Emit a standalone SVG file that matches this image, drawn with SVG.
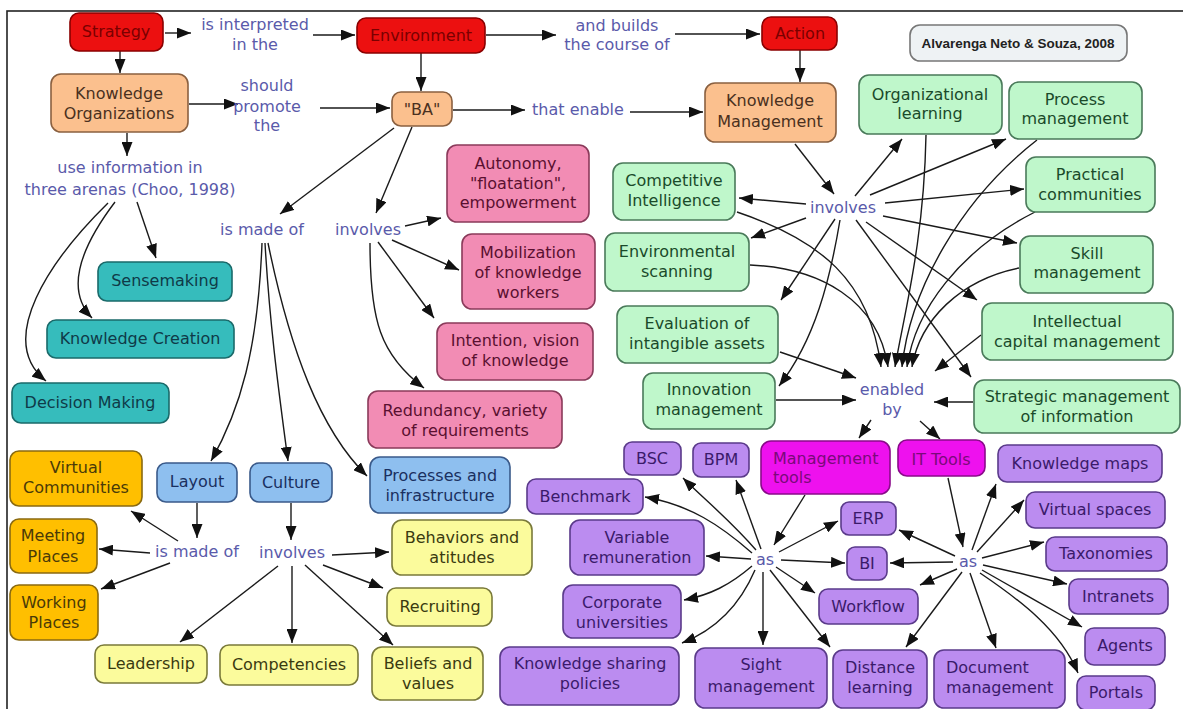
<svg xmlns="http://www.w3.org/2000/svg" width="1183" height="709" viewBox="0 0 1183 709">
<defs>
<marker id="ah" viewBox="0 0 14 11" refX="14" refY="5.5" markerWidth="14" markerHeight="11" orient="auto" markerUnits="userSpaceOnUse"><path d="M0,0 L14,5.5 L0,11 z" fill="#111"/></marker>
<style>
text{font-family:"DejaVu Sans","Verdana",sans-serif;font-size:16px;text-anchor:middle}
rect{stroke-width:1.6}
.red rect{fill:#ec1010;stroke:#8a0000}.red text{fill:#7a0000}
.peach rect{fill:#fbc08e;stroke:#8a6040}.peach text{fill:#4a3020}
.teal rect{fill:#36bcbc;stroke:#1a6a6a}.teal text{fill:#0f3a48}
.pink rect{fill:#f28cb4;stroke:#8a3a5a}.pink text{fill:#5a1030}
.blue rect{fill:#8ebfef;stroke:#3a5a8a}.blue text{fill:#1a3060}
.gold rect{fill:#ffbf00;stroke:#8a6a10}.gold text{fill:#4a3a08}
.yellow rect{fill:#fbfb9c;stroke:#7a7a3a}.yellow text{fill:#3a3a10}
.green rect{fill:#bff7cb;stroke:#4a7a5a}.green text{fill:#1a4a2a}
.mag rect{fill:#ee11ee;stroke:#8a0a8a}.mag text{fill:#7a0a7a}
.purple rect{fill:#bb8cf0;stroke:#5a3a8a}.purple text{fill:#3a1a6a}
.lbl text{fill:#5a5aaa}
#connectors path{fill:none;stroke:#1a1a1a;stroke-width:1.4;marker-end:url(#ah)}
</style>
</defs>
<rect x="0" y="0" width="1183" height="709" fill="#ffffff" stroke="none"/>
<rect x="7" y="11" width="1190" height="710" fill="none" stroke="#222" stroke-width="2"/>

<g id="connectors">
<path d="M165,33 L191,33"/>
<path d="M313,35 L355,35"/>
<path d="M486,35 L556,35"/>
<path d="M675,34 L760,34"/>
<path d="M120,51 L120,73"/>
<path d="M421,53 L421,91"/>
<path d="M800,50 L800,82"/>
<path d="M189,104 L238,104"/>
<path d="M320,108 L390,108"/>
<path d="M453,110 L525,110"/>
<path d="M630,112 L703,112"/>
<path d="M127,133 L127,156"/>
<path d="M137,202 L156,258"/>
<path d="M115,202 C90,235 60,285 92,318"/>
<path d="M108,203 C50,260 -5,340 46,381"/>
<path d="M394,128 L280,214"/>
<path d="M412,127 L376,213"/>
<path d="M405,226 L441,218"/>
<path d="M392,240 L459,270"/>
<path d="M378,242 L434,318"/>
<path d="M370,243 C370,320 380,355 424,388"/>
<path d="M262,243 C258,350 240,410 211,461"/>
<path d="M265,243 C270,330 280,400 288,461"/>
<path d="M268,243 C290,350 320,430 367,476"/>
<path d="M197,503 L197,538"/>
<path d="M178,541 L131,511"/>
<path d="M150,553 L99,549"/>
<path d="M170,563 L101,589"/>
<path d="M291,503 L291,540"/>
<path d="M332,555 L389,552"/>
<path d="M323,565 L383,588"/>
<path d="M278,566 L180,642"/>
<path d="M292,566 L292,643"/>
<path d="M305,565 L393,645"/>
<path d="M795,144 L834,194"/>
<path d="M855,196 L902,139"/>
<path d="M870,195 L1006,139"/>
<path d="M885,203 L1024,189"/>
<path d="M883,216 L1017,243"/>
<path d="M866,222 L977,300"/>
<path d="M856,220 L971,377"/>
<path d="M806,204 L739,198"/>
<path d="M806,218 L751,238"/>
<path d="M835,219 L781,300"/>
<path d="M840,220 C830,280 815,340 779,386"/>
<path d="M737,212 C820,240 870,280 881,367"/>
<path d="M750,265 C820,268 878,300 888,367"/>
<path d="M926,135 C924,240 905,310 895,367"/>
<path d="M1037,140 C960,200 910,290 902,367"/>
<path d="M1035,212 C960,250 915,310 907,367"/>
<path d="M1019,268 C960,280 920,320 912,367"/>
<path d="M981,335 L935,371"/>
<path d="M973,402 L934,402"/>
<path d="M780,352 L856,378"/>
<path d="M776,400 L856,400"/>
<path d="M871,420 L859,438"/>
<path d="M920,421 L940,439"/>
<path d="M805,495 L774,545"/>
<path d="M948,478 L963,547"/>
<path d="M756,550 C730,520 705,500 683,478"/>
<path d="M761,549 L736,480"/>
<path d="M752,553 C720,525 690,505 645,497"/>
<path d="M751,559 L706,556"/>
<path d="M779,552 L838,521"/>
<path d="M781,560 L845,563"/>
<path d="M776,567 L815,593"/>
<path d="M752,566 C730,585 710,595 684,600"/>
<path d="M755,570 C740,605 715,630 682,643"/>
<path d="M763,572 L763,645"/>
<path d="M770,570 L830,647"/>
<path d="M955,556 L899,530"/>
<path d="M953,562 L890,563"/>
<path d="M957,569 L920,585"/>
<path d="M972,550 L996,484"/>
<path d="M977,552 L1024,500"/>
<path d="M982,558 L1044,542"/>
<path d="M983,565 L1067,584"/>
<path d="M982,570 L1082,627"/>
<path d="M980,573 C1020,600 1060,630 1078,673"/>
<path d="M970,573 L996,648"/>
<path d="M962,572 L906,647"/>
</g>

<g class="lbl">
<g id="lbl-interpreted"><text x="255" y="30">is interpreted</text><text x="255" y="50">in the</text></g>
<g id="lbl-builds"><text x="617" y="31">and builds</text><text x="617" y="50">the course of</text></g>
<g id="lbl-promote"><text x="267" y="91">should</text><text x="267" y="112">promote</text><text x="267" y="131">the</text></g>
<g id="lbl-enable"><text x="578" y="115">that enable</text></g>
<g id="lbl-useinfo"><text x="130" y="173">use information in</text><text x="130" y="195">three arenas (Choo, 1998)</text></g>
<g id="lbl-madeof1"><text x="262" y="235">is made of</text></g>
<g id="lbl-involves1"><text x="368" y="235">involves</text></g>
<g id="lbl-involves-km"><text x="843" y="213">involves</text></g>
<g id="lbl-enabled"><text x="892" y="395">enabled</text><text x="892" y="415">by</text></g>
<g id="lbl-madeof2"><text x="197" y="557">is made of</text></g>
<g id="lbl-involves2"><text x="292" y="558">involves</text></g>
<g id="lbl-as1"><text x="765" y="565">as</text></g>
<g id="lbl-as2"><text x="968" y="567">as</text></g>
</g>

<g id="strategy" class="red"><rect x="70" y="13" width="93" height="38" rx="9"/><text x="116" y="37">Strategy</text></g>
<g id="environment" class="red"><rect x="357" y="18" width="128" height="35" rx="9"/><text x="421" y="41">Environment</text></g>
<g id="action" class="red"><rect x="762" y="17" width="75" height="33" rx="9"/><text x="800" y="39">Action</text></g>

<g id="citation"><rect x="910" y="25" width="217" height="36" rx="10" fill="#eef2f4" stroke="#777" stroke-width="1.6"/><text x="1018" y="48" style="font-family:'Liberation Sans',Arial,sans-serif;font-size:13px;font-weight:bold;fill:#222" textLength="193" lengthAdjust="spacingAndGlyphs">Alvarenga Neto &amp; Souza, 2008</text></g>

<g id="ko" class="peach"><rect x="51" y="74" width="137" height="58" rx="10"/><text x="119" y="99">Knowledge</text><text x="119" y="119">Organizations</text></g>
<g id="ba" class="peach"><rect x="392" y="92" width="60" height="34" rx="9"/><text x="422" y="115">"BA"</text></g>
<g id="km" class="peach"><rect x="705" y="83" width="131" height="59" rx="10"/><text x="770" y="106">Knowledge</text><text x="770" y="127">Management</text></g>

<g id="sensemaking" class="teal"><rect x="98" y="262" width="134" height="39" rx="9"/><text x="165" y="286">Sensemaking</text></g>
<g id="kcreation" class="teal"><rect x="47" y="320" width="187" height="38" rx="9"/><text x="140" y="344">Knowledge Creation</text></g>
<g id="decision" class="teal"><rect x="12" y="383" width="157" height="40" rx="9"/><text x="90" y="408">Decision Making</text></g>

<g id="autonomy" class="pink"><rect x="447" y="145" width="142" height="77" rx="10"/><text x="518" y="169">Autonomy,</text><text x="518" y="189">"floatation",</text><text x="518" y="208">empowerment</text></g>
<g id="mobilization" class="pink"><rect x="462" y="234" width="133" height="75" rx="10"/><text x="528" y="258">Mobilization</text><text x="528" y="278">of knowledge</text><text x="528" y="298">workers</text></g>
<g id="intention" class="pink"><rect x="437" y="323" width="156" height="57" rx="10"/><text x="515" y="346">Intention, vision</text><text x="515" y="366">of knowledge</text></g>
<g id="redundancy" class="pink"><rect x="368" y="391" width="194" height="57" rx="10"/><text x="465" y="416">Redundancy, variety</text><text x="465" y="436">of requirements</text></g>

<g id="layout" class="blue"><rect x="157" y="463" width="80" height="39" rx="9"/><text x="197" y="487">Layout</text></g>
<g id="culture" class="blue"><rect x="250" y="463" width="82" height="39" rx="9"/><text x="291" y="488">Culture</text></g>
<g id="processes" class="blue"><rect x="370" y="457" width="140" height="56" rx="10"/><text x="440" y="481">Processes and</text><text x="440" y="501">infrastructure</text></g>

<g id="vcommunities" class="gold"><rect x="10" y="451" width="132" height="55" rx="9"/><text x="76" y="473">Virtual</text><text x="76" y="493">Communities</text></g>
<g id="meeting" class="gold"><rect x="10" y="519" width="87" height="54" rx="9"/><text x="53" y="541">Meeting</text><text x="53" y="562">Places</text></g>
<g id="working" class="gold"><rect x="10" y="585" width="88" height="55" rx="9"/><text x="54" y="608">Working</text><text x="54" y="628">Places</text></g>

<g id="behaviors" class="yellow"><rect x="392" y="520" width="140" height="55" rx="10"/><text x="462" y="543">Behaviors and</text><text x="462" y="563">atitudes</text></g>
<g id="recruiting" class="yellow"><rect x="387" y="588" width="105" height="38" rx="9"/><text x="440" y="612">Recruiting</text></g>
<g id="beliefs" class="yellow"><rect x="372" y="647" width="111" height="53" rx="10"/><text x="428" y="669">Beliefs and</text><text x="428" y="689">values</text></g>
<g id="leadership" class="yellow"><rect x="95" y="645" width="112" height="38" rx="9"/><text x="151" y="669">Leadership</text></g>
<g id="competencies" class="yellow"><rect x="220" y="645" width="138" height="40" rx="9"/><text x="289" y="670">Competencies</text></g>

<g id="orglearning" class="green"><rect x="859" y="75" width="143" height="59" rx="10"/><text x="930" y="100">Organizational</text><text x="930" y="119">learning</text></g>
<g id="procmgmt" class="green"><rect x="1009" y="82" width="133" height="57" rx="10"/><text x="1075" y="105">Process</text><text x="1075" y="124">management</text></g>
<g id="practical" class="green"><rect x="1026" y="157" width="129" height="55" rx="10"/><text x="1090" y="180">Practical</text><text x="1090" y="200">communities</text></g>
<g id="skill" class="green"><rect x="1020" y="236" width="133" height="57" rx="10"/><text x="1087" y="259">Skill</text><text x="1087" y="278">management</text></g>
<g id="intellectual" class="green"><rect x="982" y="303" width="191" height="57" rx="10"/><text x="1077" y="327">Intellectual</text><text x="1077" y="347">capital management</text></g>
<g id="strategic" class="green"><rect x="974" y="380" width="206" height="53" rx="10"/><text x="1077" y="402">Strategic management</text><text x="1077" y="422">of information</text></g>
<g id="competitive" class="green"><rect x="613" y="163" width="122" height="57" rx="10"/><text x="674" y="186">Competitive</text><text x="674" y="206">Intelligence</text></g>
<g id="envscan" class="green"><rect x="605" y="233" width="144" height="58" rx="10"/><text x="677" y="257">Environmental</text><text x="677" y="277">scanning</text></g>
<g id="evaluation" class="green"><rect x="617" y="306" width="161" height="57" rx="10"/><text x="697" y="329">Evaluation of</text><text x="697" y="349">intangible assets</text></g>
<g id="innovation" class="green"><rect x="643" y="373" width="132" height="56" rx="10"/><text x="709" y="395">Innovation</text><text x="709" y="415">management</text></g>

<g id="mgmttools" class="mag"><rect x="761" y="441" width="129" height="53" rx="10"/><text x="773" y="464" style="text-anchor:start">Management</text><text x="773" y="483" style="text-anchor:start">tools</text></g>
<g id="ittools" class="mag"><rect x="898" y="440" width="87" height="36" rx="9"/><text x="941" y="465">IT Tools</text></g>

<g id="kmaps" class="purple"><rect x="998" y="445" width="164" height="37" rx="9"/><text x="1080" y="469">Knowledge maps</text></g>
<g id="vspaces" class="purple"><rect x="1026" y="492" width="139" height="36" rx="9"/><text x="1095" y="515">Virtual spaces</text></g>
<g id="taxonomies" class="purple"><rect x="1046" y="537" width="121" height="34" rx="9"/><text x="1106" y="559">Taxonomies</text></g>
<g id="intranets" class="purple"><rect x="1069" y="579" width="99" height="35" rx="9"/><text x="1118" y="602">Intranets</text></g>
<g id="agents" class="purple"><rect x="1085" y="628" width="80" height="37" rx="9"/><text x="1125" y="651">Agents</text></g>
<g id="portals" class="purple"><rect x="1077" y="676" width="78" height="34" rx="9"/><text x="1116" y="698">Portals</text></g>
<g id="docmgmt" class="purple"><rect x="934" y="650" width="131" height="58" rx="10"/><text x="946" y="673" style="text-anchor:start">Document</text><text x="946" y="693" style="text-anchor:start">management</text></g>
<g id="distance" class="purple"><rect x="833" y="650" width="94" height="58" rx="10"/><text x="880" y="673">Distance</text><text x="880" y="693">learning</text></g>
<g id="sight" class="purple"><rect x="695" y="648" width="132" height="60" rx="10"/><text x="761" y="670">Sight</text><text x="761" y="692">management</text></g>
<g id="ksp" class="purple"><rect x="500" y="647" width="179" height="58" rx="10"/><text x="590" y="669">Knowledge sharing</text><text x="590" y="689">policies</text></g>
<g id="corpuniv" class="purple"><rect x="563" y="585" width="118" height="53" rx="10"/><text x="622" y="608">Corporate</text><text x="622" y="628">universities</text></g>
<g id="varrem" class="purple"><rect x="570" y="520" width="134" height="55" rx="10"/><text x="637" y="543">Variable</text><text x="637" y="563">remuneration</text></g>
<g id="benchmark" class="purple"><rect x="527" y="479" width="116" height="35" rx="9"/><text x="585" y="502">Benchmark</text></g>
<g id="bsc" class="purple"><rect x="624" y="442" width="57" height="33" rx="8"/><text x="652" y="464">BSC</text></g>
<g id="bpm" class="purple"><rect x="693" y="443" width="56" height="34" rx="8"/><text x="721" y="465">BPM</text></g>
<g id="erp" class="purple"><rect x="841" y="502" width="55" height="33" rx="8"/><text x="868" y="524">ERP</text></g>
<g id="bi" class="purple"><rect x="847" y="547" width="40" height="33" rx="8"/><text x="867" y="569">BI</text></g>
<g id="workflow" class="purple"><rect x="819" y="589" width="99" height="35" rx="9"/><text x="868" y="612">Workflow</text></g>
</svg>
